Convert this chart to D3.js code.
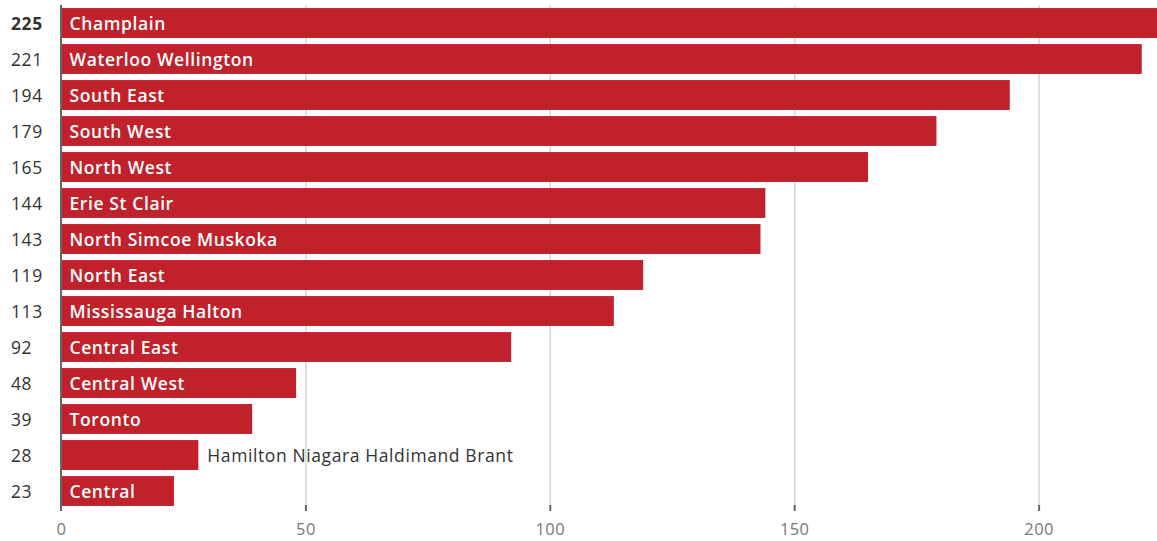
<!DOCTYPE html>
<html><head><meta charset="utf-8">
<script src="https://cdn.jsdelivr.net/npm/d3@7"></script>
<style>body{margin:0;background:#fff;}svg{display:block;}</style>
</head><body>
<svg id="c" width="1157" height="541"></svg>
<script>
const regions = ["Champlain","Waterloo Wellington","South East","South West","North West","Erie St Clair","North Simcoe Muskoka","North East","Mississauga Halton","Central East","Central West","Toronto","Hamilton Niagara Haldimand Brant","Central"];
const values = [225,221,194,179,165,144,143,119,113,92,48,39,28,23];
const xTicks = [0,50,100,150,200];
const outsideLabels = ["Hamilton Niagara Haldimand Brant"];

const svg = d3.select("#c");
const x = d3.scaleLinear().domain([0,50]).range([61.5,305.9]);
const y = d3.scaleBand().domain(regions).range([5,509]).paddingInner(0.17).paddingOuter(0.085);
const font = "'Open Sans', sans-serif";

// gridlines
svg.append("g").selectAll("line").data(xTicks.slice(1)).join("line")
  .attr("x1",d=>x(d)).attr("x2",d=>x(d)).attr("y1",5).attr("y2",505)
  .attr("stroke","#cfd6dd").attr("stroke-width",1.5);
// tick marks
svg.append("g").selectAll("line").data(xTicks.slice(1)).join("line")
  .attr("x1",d=>x(d)).attr("x2",d=>x(d)).attr("y1",505).attr("y2",511)
  .attr("stroke","#666").attr("stroke-width",2);
// tick labels
svg.append("g").selectAll("text").data(xTicks).join("text")
  .attr("x",d=>x(d)).attr("y",535).attr("text-anchor","middle")
  .attr("font-family",font).attr("font-size",16.5).attr("letter-spacing",0.4).attr("fill","#777")
  .text(d=>d);

// bars
svg.append("g").selectAll("rect").data(regions).join("rect")
  .attr("x",x(0)).attr("y",d=>y(d)).attr("height",y.bandwidth())
  .attr("width",(d,i)=>x(values[i])-x(0))
  .attr("fill","#c1212a");

// axis line
svg.append("line").attr("x1",x(0)-0.5).attr("x2",x(0)-0.5).attr("y1",5).attr("y2",511)
  .attr("stroke","#666").attr("stroke-width",2);

// bar labels
svg.append("g").selectAll("text").data(regions).join("text")
  .attr("x",(d,i)=>outsideLabels.includes(d)? x(values[i])+9 : x(0)+8)
  .attr("y",d=>y(d)+y.bandwidth()/2).attr("dy","0.4em")
  .attr("font-family",font).attr("font-size",17.5).attr("letter-spacing",0.6)
  .attr("font-weight",d=>outsideLabels.includes(d)?500:600)
  .attr("fill",d=>outsideLabels.includes(d)?"#333":"#fff")
  .text(d=>d);

// value labels
svg.append("g").selectAll("text").data(regions).join("text")
  .attr("x",11).attr("y",d=>y(d)+y.bandwidth()/2).attr("dy","0.4em")
  .attr("font-family",font).attr("font-size",17.5).attr("letter-spacing",0.6)
  .attr("font-weight",(d,i)=>i===0?700:400)
  .attr("fill","#333")
  .text((d,i)=>values[i]);
</script>
</body></html>
